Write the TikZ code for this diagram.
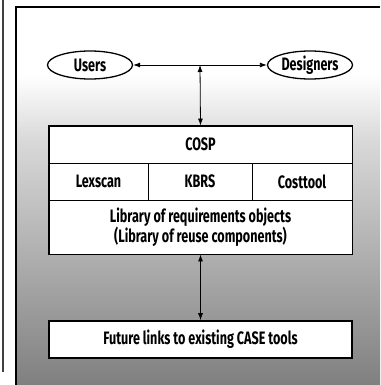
\documentclass[tikz,border=0pt]{standalone}
\usepackage{fontspec}
\setmainfont{Fira Sans}[FakeStretch=0.7]
\usetikzlibrary{shapes.geometric,arrows.meta}
\begin{document}
\begin{tikzpicture}[x=1pt,y=-1pt,
  every node/.style={font=\fontsize{18}{20}\selectfont\bfseries},
  actor/.style={ellipse,draw,line width=1.3pt,fill=white,minimum width=85pt,minimum height=28pt,inner sep=0pt},
  cell/.style={rectangle,draw,line width=0.9pt,fill=white,inner sep=0pt,align=center},
  link/.style={line width=0.8pt,{Latex[length=7pt,width=5pt]}-{Latex[length=7pt,width=5pt]}}
]
\useasboundingbox (0,0) rectangle (380,385);
% page background: white top fading to grey at the foot
\fill[white] (0,0) rectangle (380,385);
\fill[white] (16,7) rectangle (380,75);
\shade[top color=white,bottom color=black!15] (16,75) rectangle (380,140);
\shade[top color=black!15,bottom color=black!32] (16,140) rectangle (380,260);
\shade[top color=black!32,bottom color=black!50] (16,260) rectangle (380,385);
% frame lines
\draw[line width=1.4pt,black!75] (3,0) -- (3,372);
\draw[line width=1.2pt] (16,385) -- (16,7) -- (380,7);

% actors
\node[actor] (users) at (90,65) {Users};
\node[actor] (designers) at (310,65) {Designers};

% central system box
\node[cell,minimum width=303pt,minimum height=37pt] (cosp) at (200.5,144.5) {COSP};
\node[cell,minimum width=99pt,minimum height=37pt] (lex) at (98.5,181.5) {Lexscan};
\node[cell,minimum width=104pt,minimum height=37pt] (kbrs) at (200,181.5) {KBRS};
\node[cell,minimum width=100pt,minimum height=37pt] (cost) at (302,181.5) {Costtool};
\node[cell,minimum width=303pt,minimum height=54pt] (lib) at (200.5,227) {Library of requirements objects\\(Library of reuse components)};
\draw[line width=1.6pt] (cosp.north west) rectangle (lib.south east);

% external tools
\node[cell,line width=1.6pt,minimum width=303pt,minimum height=37pt] (future) at (200.5,339.5) {Future links to existing CASE tools};

% connectors
\coordinate (hub) at (200,65);
\draw[link] (users) -- (designers);
\draw[link] (hub) -- (cosp.north);
\draw[link] (lib.south) -- (future.north);
\end{tikzpicture}
\end{document}
